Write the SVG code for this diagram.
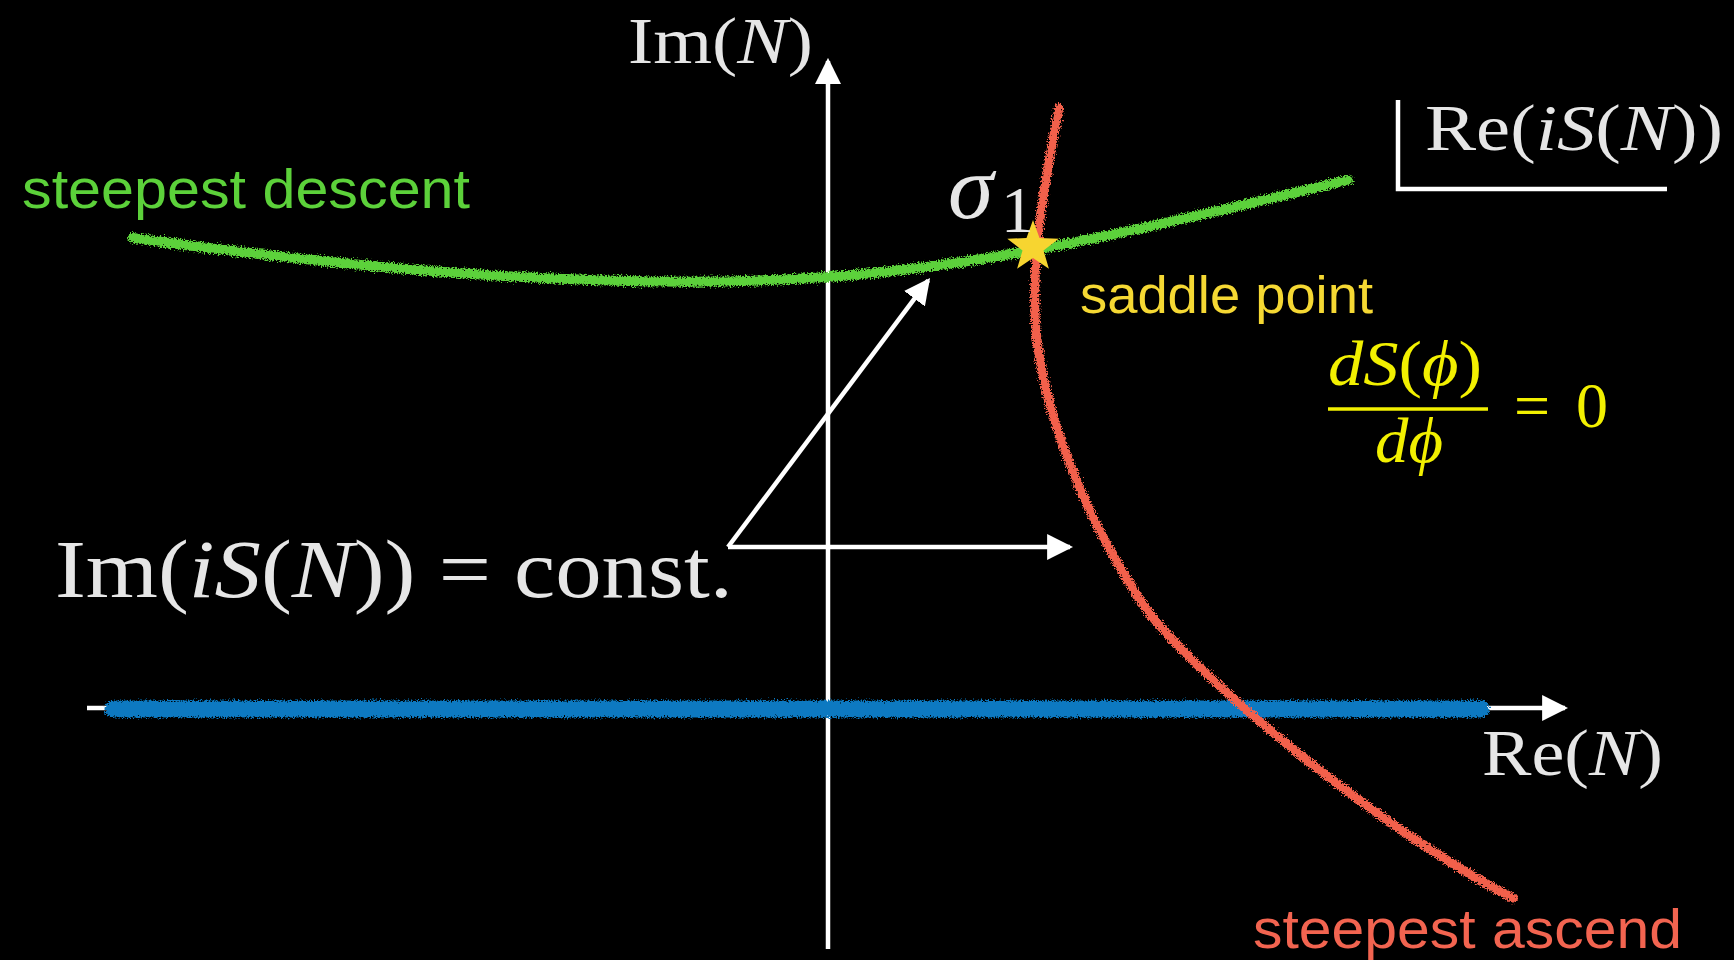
<svg xmlns="http://www.w3.org/2000/svg" width="1734" height="960" viewBox="0 0 1734 960">
<defs>
<style>
.axis{stroke:#ffffff;stroke-width:4.5;fill:none}
.math{font-family:"Liberation Serif","DejaVu Serif",serif;fill:#e6e6e6}
.it{font-style:italic}
.sans{font-family:"Liberation Sans",Arial,sans-serif}
.chalk{fill:none;stroke-linecap:round;filter:url(#rough)}
</style>
<marker id="ah" markerUnits="userSpaceOnUse" markerWidth="26" markerHeight="26" refX="22" refY="12.5" orient="auto" viewBox="0 0 25 25">
<path d="M0,0 L25,12.5 L0,25 z" fill="#ffffff"/>
</marker>
<filter id="rough" filterUnits="userSpaceOnUse" x="0" y="0" width="1734" height="960">
<feTurbulence type="fractalNoise" baseFrequency="0.7" numOctaves="2" seed="5" result="n"/>
<feDisplacementMap in="SourceGraphic" in2="n" scale="8" xChannelSelector="R" yChannelSelector="G"/>
</filter>
</defs>
<rect x="0" y="0" width="1734" height="960" fill="#000000"/>

<g id="connectors">
<line class="axis" x1="828" y1="949" x2="828" y2="61" marker-end="url(#ah)"/>
<line class="axis" x1="87" y1="708" x2="1565" y2="708" marker-end="url(#ah)"/>
<line class="axis" x1="728" y1="547" x2="928.2" y2="280.4" marker-end="url(#ah)"/>
<line class="axis" x1="728" y1="547" x2="1070" y2="547" marker-end="url(#ah)"/>
<path class="axis" d="M1398,100 L1398,189 L1667,189"/>
</g>

<g id="blue-contour">
<path class="chalk" d="M113,709 L1481,709" stroke="#0a79c1" stroke-width="17" stroke-linecap="butt"/>
</g>

<g id="green-curve">
<path class="chalk" d="M133,238 C400,275 640,290 827,277 S1200,215 1348,180" stroke="#5cd13a" stroke-width="10"/>
</g>

<g id="red-curve">
<path class="chalk" d="M1059,108 C1045,180 1030,260 1036,330 C1042,400 1075,500 1140,600 C1185,669 1380,830 1513,898" stroke="#f2604c" stroke-width="9"/>
</g>

<g id="saddle-star">
<polygon points="1033,220 1039.5,238.1 1058.7,238.7 1043.5,250.4 1048.9,268.8 1033,258 1017.1,268.8 1022.5,250.4 1007.3,238.7 1026.5,238.1" fill="#f7d530"/>
</g>

<g id="label-im-n">
<text class="math" x="628" y="63" font-size="66" textLength="185" lengthAdjust="spacingAndGlyphs">Im(<tspan class="it">N</tspan>)</text>
</g>
<g id="label-re-n">
<text class="math" x="1482" y="775" font-size="66" textLength="181" lengthAdjust="spacingAndGlyphs">Re(<tspan class="it">N</tspan>)</text>
</g>
<g id="label-re-is">
<text class="math" x="1425" y="150" font-size="66" textLength="298" lengthAdjust="spacingAndGlyphs">Re(<tspan class="it">iS</tspan>(<tspan class="it">N</tspan>))</text>
</g>
<g id="label-im-is">
<text class="math" x="55" y="597" font-size="82" textLength="678" lengthAdjust="spacingAndGlyphs">Im(<tspan class="it">iS</tspan>(<tspan class="it">N</tspan>)) = const.</text>
</g>
<g id="label-sigma">
<text class="math it" x="948" y="218" font-size="92">σ</text>
<text class="math" x="1001" y="232" font-size="66">1</text>
</g>
<g id="label-saddle">
<text class="sans" x="1080" y="313" font-size="51" textLength="293" lengthAdjust="spacingAndGlyphs" fill="#f5d833">saddle point</text>
</g>
<g id="label-equation">
<text class="math" x="1405" y="385" font-size="64" text-anchor="middle" textLength="154" lengthAdjust="spacingAndGlyphs" style="fill:#f2f000"><tspan class="it">dS</tspan>(<tspan class="it">ϕ</tspan>)</text>
<line x1="1328" y1="409" x2="1488" y2="409" stroke="#f2f000" stroke-width="3.5"/>
<text class="math it" x="1409" y="462" font-size="64" text-anchor="middle" textLength="68" lengthAdjust="spacingAndGlyphs" style="fill:#f2f000">dϕ</text>
<text class="math" x="1514" y="427" font-size="64" style="fill:#f2f000">=</text>
<text class="math" x="1576" y="427" font-size="64" style="fill:#f2f000">0</text>
</g>
<g id="label-descent">
<text class="sans" x="22" y="208" font-size="56" textLength="448" lengthAdjust="spacingAndGlyphs" fill="#5cd13a">steepest descent</text>
</g>
<g id="label-ascend">
<text class="sans" x="1253" y="948" font-size="56" textLength="429" lengthAdjust="spacingAndGlyphs" fill="#f26450">steepest ascend</text>
</g>
</svg>
